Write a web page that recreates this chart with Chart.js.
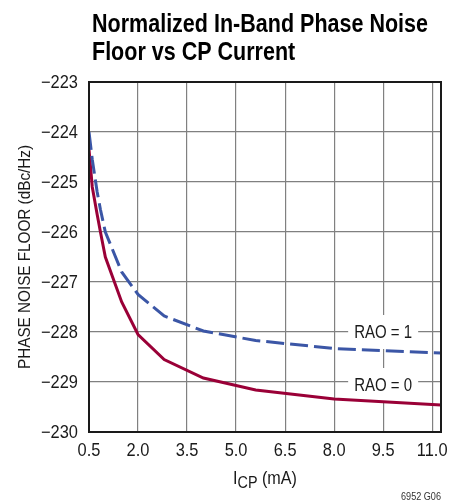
<!DOCTYPE html>
<html>
<head>
<meta charset="utf-8">
<script src="https://cdn.jsdelivr.net/npm/chart.js@4"></script>
<style>
  html, body { margin: 0; padding: 0; background: #fff; }
  #wrap { width: 471px; height: 504px; }
</style>
</head>
<body>
<div id="wrap"><canvas id="noiseChart" width="471" height="504"></canvas></div>
<script>
// Normalized in-band phase noise floor vs charge pump current

const FONT = '"Liberation Sans", Arial, sans-serif';

// ==================== DATA ====================
const icpCurrent = [0.5, 0.6, 0.75, 0.85, 1.0, 1.5, 2.0, 2.8, 4.0, 5.6, 8.0, 11.27];
const rao1Floor = [-224.0, -224.55, -225.2, -225.55, -226.0, -226.8, -227.25, -227.68, -227.98, -228.17, -228.33, -228.42];
const rao0Floor = [-224.35, -225.1, -225.65, -226.0, -226.5, -227.4, -228.05, -228.55, -228.92, -229.16, -229.34, -229.46];

const xTickValues = [0.5, 2.0, 3.5, 5.0, 6.5, 8.0, 9.5, 11.0];
const yTickValues = [-230, -229, -228, -227, -226, -225, -224, -223];

const curveLabels = [
    { text: 'RAO = 1', x: 9.5, y: -228.0 },
    { text: 'RAO = 0', x: 9.5, y: -229.06 }
];

const fmtNeg = v => (v < 0 ? '\u2212' + Math.abs(v) : String(v));

// draw text squeezed horizontally (condensed look)
function narrowText(ctx, text, x, y, sx, align) {
    const w = ctx.measureText(text).width * sx;
    let left = x;
    if (align === 'center') left = x - w / 2;
    else if (align === 'right') left = x - w;
    ctx.save();
    ctx.textAlign = 'left';
    ctx.translate(left, y);
    ctx.scale(sx, 1);
    ctx.fillText(text, 0, 0);
    ctx.restore();
    return w;
}

// ==================== DECORATION ====================
const decor = {
    id: 'decor',
    beforeDraw(chart) {
        const ctx = chart.ctx;
        ctx.save();
        ctx.fillStyle = '#fff';
        ctx.fillRect(0, 0, chart.width, chart.height);
        ctx.restore();
    },
    beforeDatasetsDraw(chart) {
        // curve labels, knocking out the grid behind them
        const ctx = chart.ctx;
        const xs = chart.scales.x, ys = chart.scales.y;
        ctx.save();
        ctx.font = '19px ' + FONT;
        ctx.textBaseline = 'middle';
        const lsx = 58 / ctx.measureText('RAO = 1').width;
        curveLabels.forEach(l => {
            const px = xs.getPixelForValue(l.x), py = ys.getPixelForValue(l.y);
            const w = ctx.measureText(l.text).width * lsx + 12;
            ctx.fillStyle = '#fff';
            ctx.fillRect(px - w / 2, py - 17, w, 34);
            ctx.fillStyle = '#1a1a1a';
            narrowText(ctx, l.text, px, py + 1, lsx, 'center');
        });
        ctx.restore();
    },
    afterDraw(chart) {
        const ctx = chart.ctx;
        const a = chart.chartArea;
        const xs = chart.scales.x, ys = chart.scales.y;
        ctx.save();

        // frame
        ctx.strokeStyle = '#1a1a1a';
        ctx.lineWidth = 2;
        ctx.strokeRect(a.left, a.top, a.right - a.left, a.bottom - a.top);

        // tick labels
        ctx.font = '18px ' + FONT;
        ctx.fillStyle = '#1a1a1a';
        ctx.textBaseline = 'middle';
        const tsx = 37 / ctx.measureText('\u2212223').width;
        ys.ticks.forEach(t => narrowText(ctx, fmtNeg(t.value), a.left - 11, ys.getPixelForValue(t.value) + 1, tsx, 'right'));
        xs.ticks.forEach(t => narrowText(ctx, t.value.toFixed(1), xs.getPixelForValue(t.value), 451, tsx, 'center'));

        // title
        const title = ['Normalized In-Band Phase Noise', 'Floor vs CP Current'];
        ctx.font = 'bold 26px ' + FONT;
        ctx.textBaseline = 'alphabetic';
        ctx.fillStyle = '#000';
        const sx = 336 / ctx.measureText(title[0]).width;
        narrowText(ctx, title[0], 92, 32, sx, 'left');
        narrowText(ctx, title[1], 92, 60, sx, 'left');

        // y axis title
        ctx.save();
        ctx.translate(25, (a.top + a.bottom) / 2);
        ctx.rotate(-Math.PI / 2);
        ctx.font = '17px ' + FONT;
        ctx.textBaseline = 'middle';
        ctx.fillStyle = '#1a1a1a';
        const ytxt = 'PHASE NOISE FLOOR (dBc/Hz)';
        narrowText(ctx, ytxt, 0, 0, 224 / ctx.measureText(ytxt).width, 'center');
        ctx.restore();

        // x axis title: I_CP (mA)
        ctx.fillStyle = '#1a1a1a';
        ctx.textBaseline = 'alphabetic';
        const bigF = '18px ' + FONT, subF = '16px ' + FONT;
        ctx.font = bigF; const wI = ctx.measureText('I').width; const wR = ctx.measureText(' (mA)').width;
        ctx.font = subF; const wS = ctx.measureText('CP').width;
        const xsx = 64 / (wI + wS + wR);
        let x0 = (a.left + a.right) / 2 - 32;
        const base = 484;
        ctx.font = bigF; x0 += narrowText(ctx, 'I', x0, base, xsx, 'left');
        ctx.font = subF; x0 += narrowText(ctx, 'CP', x0, base + 4, xsx, 'left');
        ctx.font = bigF; narrowText(ctx, ' (mA)', x0, base, xsx, 'left');

        // figure code
        ctx.font = '11px ' + FONT;
        ctx.fillStyle = '#333';
        narrowText(ctx, '6952 G06', a.right, 500, 40 / ctx.measureText('6952 G06').width, 'right');

        ctx.restore();
    }
};

// ==================== CHART ====================
const ctx = document.getElementById('noiseChart');
new Chart(ctx, {
    type: 'line',
    data: {
        datasets: [
            {
                label: 'RAO = 1',
                data: icpCurrent.map((x, i) => ({ x, y: rao1Floor[i] })),
                borderColor: '#3b56a6', borderWidth: 3, borderDash: [18, 6],
                pointRadius: 0, tension: 0, fill: false
            },
            {
                label: 'RAO = 0',
                data: icpCurrent.map((x, i) => ({ x, y: rao0Floor[i] })),
                borderColor: '#9a0037', borderWidth: 3,
                pointRadius: 0, tension: 0, fill: false
            }
        ]
    },
    options: {
        responsive: false, animation: false,
        layout: { padding: { left: 0, top: 82, right: 30, bottom: 0 } },
        plugins: { legend: { display: false }, tooltip: { enabled: false } },
        scales: {
            x: {
                type: 'linear', min: 0.5, max: 11.27,
                afterBuildTicks: s => { s.ticks = xTickValues.map(v => ({ value: v })); },
                afterFit: s => { s.height = 72; },
                ticks: { display: false },
                grid: { color: '#808080', lineWidth: 1.2, drawTicks: false },
                border: { display: false }
            },
            y: {
                min: -230, max: -223,
                afterBuildTicks: s => { s.ticks = yTickValues.map(v => ({ value: v })); },
                afterFit: s => { s.width = 89; },
                ticks: { display: false },
                grid: { color: '#808080', lineWidth: 1.2, drawTicks: false },
                border: { display: false }
            }
        }
    },
    plugins: [decor]
});
</script>
</body>
</html>
